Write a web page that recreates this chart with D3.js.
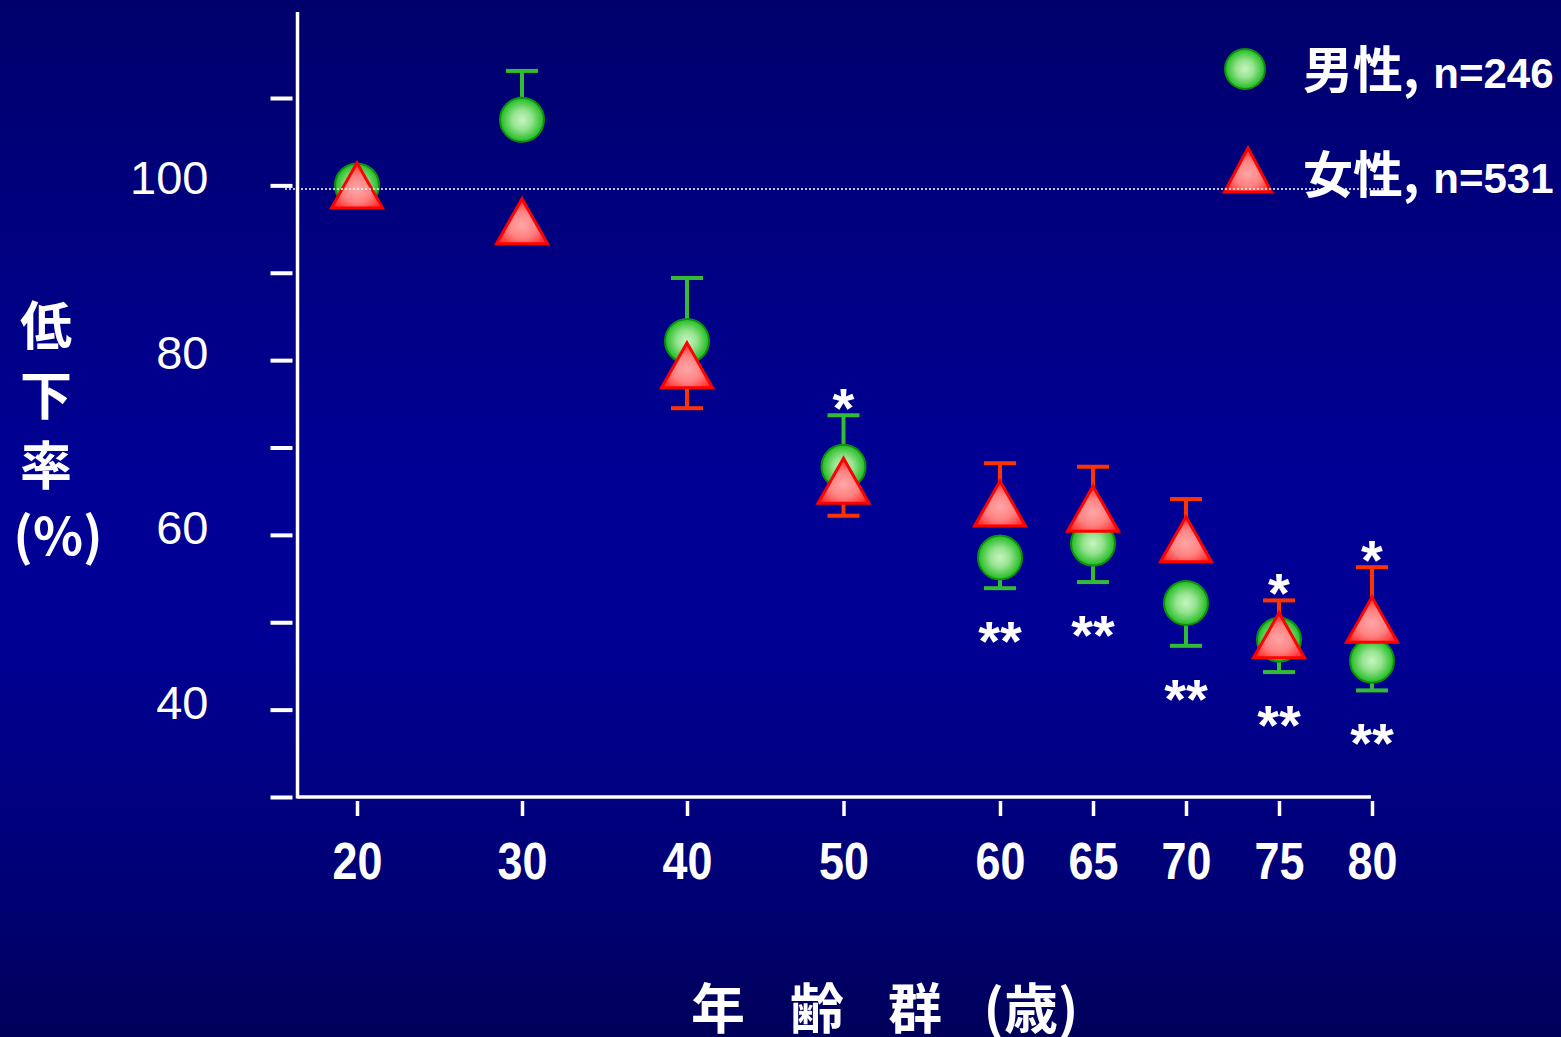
<!DOCTYPE html>
<html>
<head>
<meta charset="utf-8">
<script src="https://cdn.jsdelivr.net/npm/d3@7"></script>
<style>
  html, body { margin: 0; padding: 0; background: #000080; }
  svg { display: block; }
</style>
</head>
<body>
<svg id="chart" width="1561" height="1037"></svg>
<script>
// Age groups (years)
const ages = [20, 30, 40, 50, 60, 65, 70, 75, 80];

// Decline rate (%) relative to the 20s, mean values
const maleValues   = [100, 107.5, 82.2, 67.8, 57.4, 59.0, 52.2, 48.0, 45.6];
const femaleValues = [100, 95.9, 79.4, 66.2, 63.6, 63.0, 59.5, 48.5, 50.3];

// One-sided error bars: positive = drawn upward, negative = drawn downward
const maleErr   = [0, 5.6, 7.2, 5.9, -3.5, -4.4, -4.9, -3.7, -3.4];
const femaleErr = [0, 0, -4.9, -4.0, 4.6, 4.8, 4.6, 4.0, 6.0];

// Significance marks above / below each age group
const sigAbove = ["", "", "", "*", "", "", "", "*", "*"];
const sigBelow = ["", "", "", "", "**", "**", "**", "**", "**"];

// Axis ticks
const yTicks = [30, 40, 50, 60, 70, 80, 90, 100, 110];
const yTickLabels = [40, 60, 80, 100];

// Text
const yTitle = ["低", "下", "率", "(%)"];
const xTitle = ["年", "齢", "群", "(歳)"];
const legendNames = ["男性,", "女性,"];
const legendCounts = ["n=246", "n=531"];

const W = 1561, H = 1037;
const svg = d3.select("#chart");
const defs = svg.append("defs");

// Background: vertical deep-blue gradient
const bg = defs.append("linearGradient").attr("id", "bg")
  .attr("x1", 0).attr("y1", 0).attr("x2", 0).attr("y2", 1);
[[0, "#00006c"], [0.45, "#000094"], [0.62, "#000094"], [0.85, "#000076"], [1, "#00005a"]]
  .forEach(([o, c]) => bg.append("stop").attr("offset", o).attr("stop-color", c));
svg.append("rect").attr("width", W).attr("height", H).attr("fill", "url(#bg)");

// Marker fills
const gGreen = defs.append("radialGradient").attr("id", "gGreen")
  .attr("cx", "50%").attr("cy", "50%").attr("r", "50%");
[[0, "#c6f5c0"], [0.45, "#95e38f"], [1, "#1fbb1f"]]
  .forEach(([o, c]) => gGreen.append("stop").attr("offset", o).attr("stop-color", c));
const gRed = defs.append("radialGradient").attr("id", "gRed")
  .attr("cx", "50%").attr("cy", "58%").attr("r", "58%");
[[0, "#ffa6a6"], [0.5, "#ff8282"], [1, "#ff2424"]]
  .forEach(([o, c]) => gRed.append("stop").attr("offset", o).attr("stop-color", c));

// Scales
const x = d3.scaleLinear().domain([20, 40, 60, 80]).range([357, 687, 1000, 1372]);
const y = d3.scaleLinear().domain([30, 110]).range([797, 98]);

const plotLeft = 297.5, plotTop = 12, plotBottom = 797, plotRight = 1371;

// Y axis
const yAxis = d3.axisLeft(y)
  .tickValues(yTicks)
  .tickSize(22)
  .tickPadding(62)
  .tickFormat(d => yTickLabels.includes(d) ? d : "");
const gy = svg.append("g").attr("transform", `translate(${plotLeft - 5},0)`).call(yAxis);
gy.select(".domain").remove();
gy.selectAll(".tick line").attr("stroke", "#fff").attr("stroke-width", 4);
gy.selectAll(".tick text")
  .attr("fill", "#fff")
  .attr("font-family", "'Liberation Sans', Arial, sans-serif")
  .attr("font-size", 47)
  .attr("dy", "0.18em");

// X axis
const xAxis = d3.axisBottom(x)
  .tickValues(ages)
  .tickSize(15)
  .tickPadding(27)
  .tickFormat(d => d);
const gx = svg.append("g").attr("transform", `translate(0,${plotBottom + 4})`).call(xAxis);
gx.select(".domain").remove();
gx.selectAll(".tick line").attr("stroke", "#fff").attr("stroke-width", 3.5);
gx.selectAll(".tick text")
  .attr("fill", "#fff")
  .attr("font-family", "'Liberation Sans', Arial, sans-serif")
  .attr("font-weight", "bold")
  .attr("font-size", 51)
  .attr("transform", "scale(0.88,1)");

// Axis lines
svg.append("line").attr("x1", plotLeft).attr("x2", plotLeft)
  .attr("y1", plotTop).attr("y2", plotBottom + 1.5)
  .attr("stroke", "#fff").attr("stroke-width", 3.5);
svg.append("line").attr("x1", plotLeft).attr("x2", plotRight)
  .attr("y1", plotBottom).attr("y2", plotBottom)
  .attr("stroke", "#fff").attr("stroke-width", 3.5);

// Axis titles
const cjk = "'Noto Sans CJK JP', 'Noto Sans CJK SC', sans-serif";
const yTitleX = [46, 46, 46, 58];
svg.append("g").selectAll("text").data(yTitle).join("text")
  .attr("x", (d, i) => yTitleX[i])
  .attr("y", (d, i) => 345 + i * 70)
  .attr("text-anchor", "middle")
  .attr("fill", "#fff")
  .attr("font-family", cjk)
  .attr("font-weight", "bold")
  .attr("font-size", 52)
  .text(d => d);

const xTitleX = [718, 817, 915, 1031];
svg.append("g").selectAll("text").data(xTitle).join("text")
  .attr("x", (d, i) => xTitleX[i])
  .attr("y", 1029)
  .attr("text-anchor", "middle")
  .attr("fill", "#fff")
  .attr("font-family", cjk)
  .attr("font-weight", "bold")
  .attr("font-size", 54)
  .text(d => d);

// Data rows
const rows = ages.map((a, i) => ({
  age: a, m: maleValues[i], f: femaleValues[i],
  me: maleErr[i], fe: femaleErr[i],
  up: sigAbove[i], down: sigBelow[i]
}));

const capW = 32;
function errorBars(sel, valKey, errKey, color) {
  const g = sel.append("g").attr("stroke", color).attr("stroke-width", 4);
  const withErr = rows.filter(r => r[errKey] !== 0);
  g.selectAll("line.stem").data(withErr).join("line").attr("class", "stem")
    .attr("x1", r => x(r.age)).attr("x2", r => x(r.age))
    .attr("y1", r => y(r[valKey])).attr("y2", r => y(r[valKey] + r[errKey]));
  g.selectAll("line.cap").data(withErr).join("line").attr("class", "cap")
    .attr("x1", r => x(r.age) - capW / 2).attr("x2", r => x(r.age) + capW / 2)
    .attr("y1", r => y(r[valKey] + r[errKey])).attr("y2", r => y(r[valKey] + r[errKey]));
}
errorBars(svg, "m", "me", "#33bb33");
errorBars(svg, "f", "fe", "#ff3300");

// Marker shapes
const circleR = 22;
const triW = 51, triH = 45;
const triPath = `M0,${-triH / 2}L${triW / 2},${triH / 2}L${-triW / 2},${triH / 2}Z`;

svg.append("g").selectAll("circle").data(rows).join("circle")
  .attr("cx", r => x(r.age)).attr("cy", r => y(r.m)).attr("r", circleR)
  .attr("fill", "url(#gGreen)").attr("stroke", "#0d8f0d").attr("stroke-width", 2);

svg.append("g").selectAll("path").data(rows).join("path")
  .attr("transform", r => `translate(${x(r.age)},${y(r.f)})`)
  .attr("d", triPath)
  .attr("fill", "url(#gRed)").attr("stroke", "#ff0000").attr("stroke-width", 3)
  .attr("stroke-linejoin", "miter");

// Significance marks
const starFont = "'Liberation Sans', Arial, sans-serif";
svg.append("g").selectAll("text").data(rows.filter(r => r.up)).join("text")
  .attr("x", r => x(r.age))
  .attr("y", r => y(Math.max(r.m + Math.max(r.me, 0), r.f + Math.max(r.fe, 0))) - 19 + 31)
  .attr("text-anchor", "middle").attr("fill", "#fff")
  .attr("font-family", starFont).attr("font-weight", "bold").attr("font-size", 56)
  .text(r => r.up);
svg.append("g").selectAll("text").data(rows.filter(r => r.down)).join("text")
  .attr("x", r => x(r.age))
  .attr("y", r => y(Math.min(r.m + Math.min(r.me, 0), r.f + Math.min(r.fe, 0))) + 41 + 31)
  .attr("text-anchor", "middle").attr("fill", "#fff")
  .attr("font-family", starFont).attr("font-weight", "bold").attr("font-size", 56)
  .text(r => r.down);

// Legend
const legend = svg.append("g");
legend.append("circle").attr("cx", 1245).attr("cy", 69).attr("r", 20)
  .attr("fill", "url(#gGreen)").attr("stroke", "#0d8f0d").attr("stroke-width", 2);
legend.append("path").attr("transform", "translate(1248,170)")
  .attr("d", `M0,-22L23.5,22L-23.5,22Z`)
  .attr("fill", "url(#gRed)").attr("stroke", "#ff0000").attr("stroke-width", 3);
const legendY = [88, 193];
legendNames.forEach((name, i) => {
  const t = legend.append("text").attr("x", 1303).attr("y", legendY[i])
    .attr("fill", "#fff").attr("font-weight", "bold");
  t.append("tspan").attr("font-family", cjk).attr("font-size", 50).text(name);
  t.append("tspan").attr("font-family", "'Liberation Sans', Arial, sans-serif")
    .attr("font-size", 42).attr("dx", 14).text(legendCounts[i]);
});

// Dotted reference line at 100 %, drawn over the markers
svg.append("line")
  .attr("x1", 285).attr("x2", 1385)
  .attr("y1", y(100) + 3.5).attr("y2", y(100) + 3.5)
  .attr("stroke", "#fff").attr("stroke-width", 1.5)
  .attr("stroke-dasharray", "2,2");
</script>
</body>
</html>
